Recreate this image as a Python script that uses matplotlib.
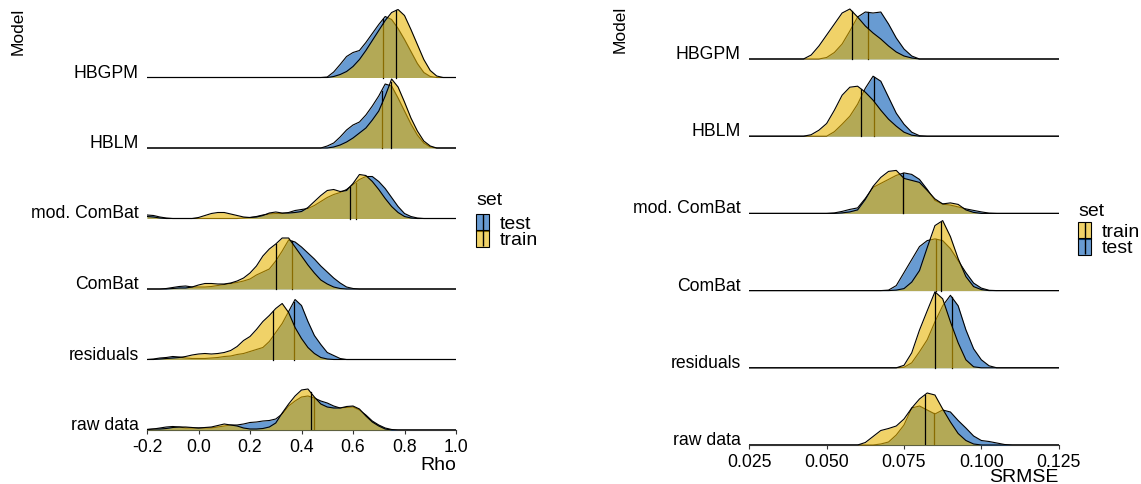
import matplotlib.pyplot as plt
from matplotlib.patches import Patch
from matplotlib.lines import Line2D
from matplotlib.colors import to_rgba
import numpy as np

plt.rcParams["font.family"] = ["Liberation Sans", "DejaVu Sans"]

# rows, bottom to top
models = ["raw data", "residuals", "ComBat", "mod. ComBat", "HBLM", "HBGPM"]

# ---------------- left panel: Rho -----------------
rho_grid = [-0.2, -0.175, -0.15, -0.125, -0.1, -0.075, -0.05, -0.025, 0.0, 0.025,
            0.05, 0.075, 0.1, 0.125, 0.15, 0.175, 0.2, 0.225, 0.25, 0.275,
            0.3, 0.325, 0.35, 0.375, 0.4, 0.425, 0.45, 0.475, 0.5, 0.525,
            0.55, 0.575, 0.6, 0.625, 0.65, 0.675, 0.7, 0.725, 0.75, 0.775,
            0.8, 0.825, 0.85, 0.875, 0.9, 0.925, 0.95, 0.975, 1.0]

# ridge heights (pixels, one row = 70.5 px)
rho_test_hbgpm = [0] * 28 + [0.5, 5.5, 13, 21, 25, 27, 35, 44, 53, 61, 58, 49, 38, 26, 14, 5, 1, 0, 0, 0, 0]
rho_train_hbgpm = [0] * 29 + [1, 3, 6, 11, 18, 27, 37, 47, 57, 65, 68, 62, 48, 33, 18, 7, 1.5, 0, 0, 0]
rho_test_hblm = [0] * 28 + [2, 5, 11, 18, 23, 26, 33, 42, 52, 64, 62, 50, 37, 24, 13, 5, 1, 0, 0, 0, 0]
rho_train_hblm = [0] * 29 + [1, 3, 6, 10, 15, 20, 28, 37, 52, 69, 61, 46, 30, 17, 7, 2, 0, 0, 0, 0]
rho_test_modcombat = [3.5, 3, 1.5, 0.5] + [0] * 11 + [0.5, 1, 2, 3.5, 4.5, 5, 5, 6, 8, 9, 10, 13, 17, 21, 24,
                                                    26, 29, 34, 39, 42, 42, 37, 30, 21, 12, 5, 2, 0.5] + [0] * 6
rho_train_modcombat = [2, 1.5, 0.5, 0, 0, 0, 0, 0, 1, 3, 5, 6, 6, 4.5, 3, 1.5, 1, 1.5, 3, 5.5, 6.5, 5.5, 5.5, 6,
                       7, 11, 17, 23, 28, 29, 27, 28, 35, 44, 43, 37, 29, 20, 12, 6, 2, 0.5] + [0] * 7
rho_test_combat = [0, 0, 0, 0.5, 1.5, 2.5, 3, 2, 2, 2, 2.5, 3.5, 4.5, 5.5, 6.5, 8, 10, 14, 17, 20,
                   28, 38, 49, 47, 42, 36, 30, 23, 17, 11, 6, 2, 0.5] + [0] * 16
rho_train_combat = [0, 0, 0, 0, 0.5, 1, 1, 2, 4, 5.5, 5.5, 5, 5, 6, 8, 11, 16, 23, 33, 40,
                    45, 51, 51, 42, 33, 24, 16, 9, 5, 2, 0.5] + [0] * 18
rho_test_residuals = [0, 0.5, 1.5, 2, 3, 2.5, 1.5, 1, 1, 1, 1.5, 2, 3, 3.5, 5, 6, 8, 10, 12, 18,
                      27, 36, 48, 60, 54, 38, 24, 15, 7, 4, 1] + [0] * 18
rho_train_residuals = [0, 0, 0.5, 1, 1.5, 2, 3, 4.5, 5.5, 6, 5.5, 6, 7, 9, 13, 19, 23, 30, 38, 44,
                       51, 56, 47, 32, 21, 12, 6, 2, 0.5] + [0] * 20
rho_test_raw = [0.5, 1, 2, 3, 3.5, 3, 2, 2, 2, 2, 2, 3, 4, 5, 5, 6, 7.5, 8, 9, 9.5,
                11, 16, 24, 29, 33, 34, 32, 29, 27, 24, 22, 22.5, 23, 20, 15, 9, 5, 2, 0.5] + [0] * 10
rho_train_raw = [0.5, 1, 1, 1.5, 2.5, 3, 3, 2.5, 2, 2.5, 3, 4.5, 6, 5, 4, 2, 1, 1, 1.5, 3,
                 7, 17, 26, 34, 40, 41, 33, 26, 23, 22, 22, 23.5, 24, 21, 14, 8, 4, 1] + [0] * 11

rho_test_median = [0.448, 0.370, 0.364, 0.610, 0.711, 0.716]
rho_train_median = [0.435, 0.290, 0.302, 0.588, 0.746, 0.768]

# ---------------- right panel: SRMSE -----------------
srmse_grid = [0.025, 0.0275, 0.03, 0.0325, 0.035, 0.0375, 0.04, 0.0425, 0.045, 0.0475,
              0.05, 0.0525, 0.055, 0.0575, 0.06, 0.0625, 0.065, 0.0675, 0.07, 0.0725,
              0.075, 0.0775, 0.08, 0.0825, 0.085, 0.0875, 0.09, 0.0925, 0.095, 0.0975,
              0.1, 0.1025, 0.105, 0.1075, 0.11, 0.1125, 0.115, 0.1175, 0.12, 0.1225, 0.125]

# ridge heights (pixels, one row = 77.2 px)
srmse_train_hbgpm = [0] * 8 + [4, 13, 24, 35, 46, 50, 42, 33, 26, 20, 13, 7, 3, 1] + [0] * 19
srmse_test_hbgpm = [0] * 10 + [1.5, 6.5, 15, 28, 42, 47, 46, 47, 35, 21, 10, 3] + [0] * 19
srmse_train_hblm = [0] * 8 + [1.5, 6, 12.7, 26, 41, 49, 50, 44, 36, 26, 17, 10, 4, 1] + [0] * 19
srmse_test_hblm = [0] * 11 + [4.5, 12, 20, 32, 48, 60, 55, 39, 23, 12, 4, 0.5] + [0] * 18
srmse_train_modcombat = [0] * 12 + [0.5, 1.5, 3.5, 14, 27, 36, 42, 43, 35, 33, 31, 23, 14.5, 9.5, 10.5,
                                   9, 3.5, 1] + [0] * 11
srmse_test_modcombat = [0] * 11 + [0.5, 2, 4, 5.5, 15, 26, 30, 34, 38, 40.5, 39, 34, 24, 13, 9.3, 8.3,
                                  6.5, 4.5, 3, 1.5, 0.3] + [0] * 9
srmse_train_combat = [0] * 19 + [0.5, 2, 8.5, 20, 43, 65, 70, 54, 32, 14, 4, 1] + [0] * 10
srmse_test_combat = [0] * 18 + [0.5, 5, 18, 31, 44, 50, 51.7, 50, 42, 30, 18, 7.5, 2.5, 0.3] + [0] * 9
srmse_train_residuals = [0] * 20 + [2.5, 15, 37.7, 57, 76, 69, 46, 25, 8, 1] + [0] * 11
srmse_test_residuals = [0] * 20 + [0.5, 5, 16, 28, 46, 62, 72.5, 62, 38, 19, 8, 2] + [0] * 9
srmse_train_raw = [0] * 15 + [2.5, 8.5, 14.5, 16.5, 19, 26, 37, 46, 52, 50, 36, 23, 11.5, 4.5, 1] + [0] * 11
srmse_test_raw = [0] * 17 + [1, 3, 10, 20, 37, 39, 35, 31, 35, 33, 24.5, 17, 9, 4.5, 3.5, 2, 0.5] + [0] * 7

srmse_test_median = [0.0846, 0.0905, 0.0852, 0.0748, 0.0652, 0.0634]
srmse_train_median = [0.0817, 0.0851, 0.0869, 0.0747, 0.0610, 0.0581]

test_color = "#0358B4"
train_color = "#E6B403"
ALPHA = 0.6


def draw_ridges(ax, grid, test_rows, train_rows, test_med, train_med, unit):
    x = np.array(grid)
    z = 1
    # top row first, lower rows overlap the ones above
    for pos in range(len(test_rows) - 1, -1, -1):
        for heights, med, color in ((test_rows[pos], test_med[pos], test_color),
                                    (train_rows[pos], train_med[pos], train_color)):
            y = pos + np.array(heights, dtype=float) / unit
            ax.fill_between(x, pos, y, color=color, alpha=ALPHA, lw=0, zorder=z)
            ax.plot(x, y, color="black", lw=0.8, zorder=z + 1, solid_joinstyle="round")
            ytop = np.interp(med, x, y)
            ax.plot([med, med], [pos, ytop], color="black", lw=0.9, zorder=z + 1)
            z += 2


def style_axis(ax, xlim, ylim, ticks, ticklabels, xlabel, labelpad):
    ax.set_xlim(*xlim)
    ax.set_ylim(*ylim)
    for s in ("left", "top", "right"):
        ax.spines[s].set_visible(False)
    ax.spines["bottom"].set_color("#333333")
    ax.spines["bottom"].set_linewidth(0.8)
    ax.set_xticks(ticks)
    ax.set_xticklabels(ticklabels, fontsize=12.7)
    ax.tick_params(axis="x", length=3, width=0.8, color="#333333", pad=3.5)
    ax.set_yticks(range(len(models)))
    ax.set_yticklabels(models, fontsize=12.7)
    ax.tick_params(axis="y", length=0, pad=6)
    for lbl in ax.get_yticklabels():
        lbl.set_va("baseline")
    ax.set_xlabel(xlabel, loc="right", fontsize=14, labelpad=labelpad)
    ax.patch.set_alpha(0)


def legend_handles(order):
    cols = {"test": test_color, "train": train_color}
    hs = []
    for name in order:
        patch = Patch(facecolor=to_rgba(cols[name], ALPHA), edgecolor="black", linewidth=0.8)
        bar = Line2D([], [], color="black", marker="|", markersize=12, markeredgewidth=1, linestyle="none")
        hs.append((patch, bar))
    return hs


W, H = 1141, 484
fig = plt.figure(figsize=(W / 100, H / 100), dpi=100)

# left panel
ax1 = fig.add_axes([147 / W, (H - 430) / H, 309 / W, 427 / H])
rho_test = [rho_test_raw, rho_test_residuals, rho_test_combat, rho_test_modcombat, rho_test_hblm, rho_test_hbgpm]
rho_train = [rho_train_raw, rho_train_residuals, rho_train_combat, rho_train_modcombat, rho_train_hblm,
             rho_train_hbgpm]
draw_ridges(ax1, rho_grid, rho_test, rho_train, rho_test_median, rho_train_median, 70.5)
style_axis(ax1, (-0.2, 1.0), (0, 427 / 70.5),
           [-0.2, 0.0, 0.2, 0.4, 0.6, 0.8, 1.0],
           ["-0.2", "0.0", "0.2", "0.4", "0.6", "0.8", "1.0"], "Rho", 1)
fig.text(18 / W, 1 - 8 / H, "Model", rotation=90, ha="center", va="top", fontsize=12.5)

# right panel
ax2 = fig.add_axes([749.3 / W, (H - 445) / H, 309.4 / W, 442 / H])
srmse_test = [srmse_test_raw, srmse_test_residuals, srmse_test_combat, srmse_test_modcombat, srmse_test_hblm,
              srmse_test_hbgpm]
srmse_train = [srmse_train_raw, srmse_train_residuals, srmse_train_combat, srmse_train_modcombat,
               srmse_train_hblm, srmse_train_hbgpm]
draw_ridges(ax2, srmse_grid, srmse_test, srmse_train, srmse_test_median, srmse_train_median, 77.2)
style_axis(ax2, (0.025, 0.125), (0, 442 / 77.2),
           [0.025, 0.05, 0.075, 0.1, 0.125],
           ["0.025", "0.050", "0.075", "0.100", "0.125"], "SRMSE", -1.5)
fig.text(620 / W, 1 - 6 / H, "Model", rotation=90, ha="center", va="top", fontsize=12.5)

# legends (title as its own text so the keys can sit tight)
leg_kw = dict(loc="upper left", frameon=False, borderpad=0, borderaxespad=0,
              handlelength=0.68, handleheight=0.95, handletextpad=0.55, labelspacing=-0.15,
              fontsize=14)
fig.text(476 / W, 1 - 192 / H, "set", ha="left", va="top", fontsize=14)
fig.legend(legend_handles(["test", "train"]), ["test", "train"],
           bbox_to_anchor=(476 / W, 1 - 214 / H), **leg_kw)
fig.text(1078 / W, 1 - 203 / H, "set", ha="left", va="top", fontsize=14)
fig.legend(legend_handles(["train", "test"]), ["train", "test"],
           bbox_to_anchor=(1078 / W, 1 - 222 / H), **leg_kw)

fig.savefig("out.png", dpi=100)
